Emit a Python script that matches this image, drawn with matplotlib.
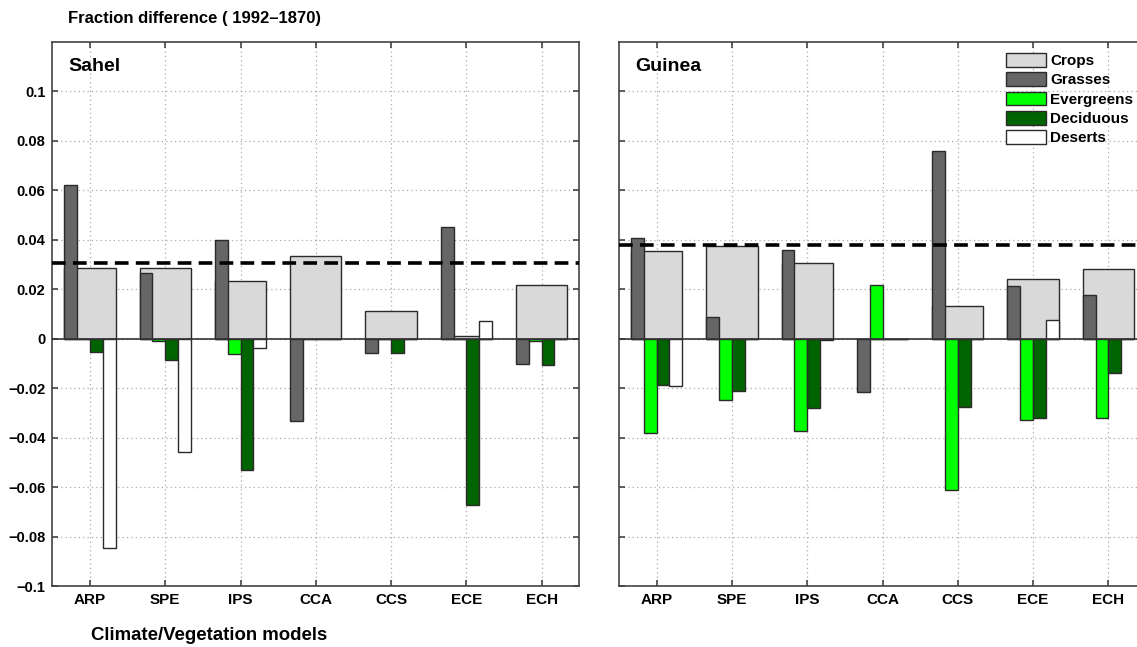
"""
Fraction difference (1992-1870) per vegetation type, Sahel and Guinea
"""

import matplotlib
matplotlib.use('Agg')
import matplotlib.pyplot as plt
from matplotlib.patches import Patch

plt.rcParams['font.family'] = ['Liberation Sans', 'DejaVu Sans']
plt.rcParams['font.weight'] = 'bold'

# Modeller
models = ['ARP', 'SPE', 'IPS', 'CCA', 'CCS', 'ECE', 'ECH']

# Sahel
sahel_crops = [0.0286, 0.0288, 0.0232, 0.0334, 0.0114, 0.0012, 0.0218]
sahel_grasses = [0.0621, 0.0265, 0.0399, -0.0333, -0.0059, 0.0450, -0.0101]
sahel_evergreens = [0.0, -0.0010, -0.0063, 0.0, 0.0, 0.0, -0.0008]
sahel_deciduous = [-0.0053, -0.0085, -0.0530, 0.0, -0.0058, -0.0674, -0.0106]
sahel_deserts = [-0.0847, -0.0457, -0.0036, 0.0, 0.0, 0.0070, 0.0]
sahel_mean = 0.0305

# Guinea
guinea_crops = [0.0353, 0.0377, 0.0307, 0.0, 0.0132, 0.0243, 0.0284]
guinea_grasses = [0.0407, 0.0086, 0.0358, -0.0216, 0.0758, 0.0215, 0.0178]
guinea_evergreens = [-0.0381, -0.0247, -0.0373, 0.0218, -0.0610, -0.0329, -0.0321]
guinea_deciduous = [-0.0186, -0.0211, -0.0282, 0.0, -0.0275, -0.0321, -0.0137]
guinea_deserts = [-0.0191, 0.0, -0.0005, 0.0, 0.0, 0.0077, 0.0]
guinea_mean = 0.038

yticks = [-0.1, -0.08, -0.06, -0.04, -0.02, 0, 0.02, 0.04, 0.06, 0.08, 0.1]
ytick_labels = ['\u22120.1', '\u22120.08', '\u22120.06', '\u22120.04', '\u22120.02', '0',
                '0.02', '0.04', '0.06', '0.08', '0.1']

colors = {
    'Crops': '#d9d9d9',
    'Grasses': '#666666',
    'Evergreens': '#00ff00',
    'Deciduous': '#006400',
    'Deserts': '#ffffff',
}
edge = '#2a2a2a'


def draw_panel(ax, crops, grasses, evergreens, deciduous, deserts, mean, name, show_labels):
    x = list(range(1, len(models) + 1))
    w = 0.17

    # genis ekin cubugu arkada
    ax.bar(x, crops, width=4 * w, color=colors['Crops'], edgecolor=edge, linewidth=1, zorder=2)

    series = [grasses, evergreens, deciduous, deserts]
    names = ['Grasses', 'Evergreens', 'Deciduous', 'Deserts']
    offsets = [-1.5 * w, -0.5 * w, 0.5 * w, 1.5 * w]
    for vals, nm, off in zip(series, names, offsets):
        xs = [xi + off for xi in x]
        ax.bar(xs, vals, width=w, color=colors[nm], edgecolor=edge, linewidth=1, zorder=3)

    ax.axhline(0, color='#333333', linewidth=1.2, zorder=4)
    ax.axhline(mean, color='black', linewidth=2.6, dashes=(3.8, 2.0), zorder=5)

    ax.set_xlim(0.5, 7.5)
    ax.set_ylim(-0.1, 0.12)
    ax.set_xticks(x)
    ax.set_xticklabels(models, fontsize=11, fontweight='bold')
    ax.set_yticks(yticks)
    if show_labels:
        ax.set_yticklabels(ytick_labels, fontsize=10.5, fontweight='bold')
    else:
        ax.set_yticklabels([])

    ax.tick_params(direction='in', length=4, width=1.2, top=True, right=True,
                   color='#444444', pad=5)
    ax.grid(True, linestyle=(0, (1, 2.5)), color='#aaaaaa', linewidth=0.9)
    ax.set_axisbelow(True)
    for sp in ax.spines.values():
        sp.set_color('#444444')
        sp.set_linewidth(1.2)

    ax.text(0.03, 0.955, name, transform=ax.transAxes, fontsize=14,
            fontweight='bold', ha='left', va='center')


fig = plt.figure(figsize=(11.37, 6.47), dpi=100)
W, H = 1137.0, 647.0
bottom = 1 - 586 / H
height = (586 - 42) / H
ax1 = fig.add_axes([52.3 / W, bottom, 527 / W, height])
ax2 = fig.add_axes([619 / W, bottom, 527 / W, height])

draw_panel(ax1, sahel_crops, sahel_grasses, sahel_evergreens, sahel_deciduous,
           sahel_deserts, sahel_mean, 'Sahel', True)
draw_panel(ax2, guinea_crops, guinea_grasses, guinea_evergreens, guinea_deciduous,
           guinea_deserts, guinea_mean, 'Guinea', False)

# Lejant
handles = [Patch(facecolor=colors[k], edgecolor=edge, linewidth=1, label=k) for k in colors]
fig.legend(handles=handles, loc='upper left', bbox_to_anchor=(1006 / W, 1 - 53 / H),
           frameon=False, handlelength=2.6, handleheight=1.0,
           labelspacing=0.28, handletextpad=0.3, borderpad=0, borderaxespad=0,
           prop={'weight': 'bold', 'size': 11})

fig.text(68 / W, 1 - 18 / H, 'Fraction difference ( 1992\u20131870)', fontsize=12,
         fontweight='bold', ha='left', va='center')
fig.text(91 / W, 1 - 636 / H, 'Climate/Vegetation models', fontsize=13.4,
         fontweight='bold', ha='left', va='center')

plt.savefig('out.png', dpi=100)
plt.close()
